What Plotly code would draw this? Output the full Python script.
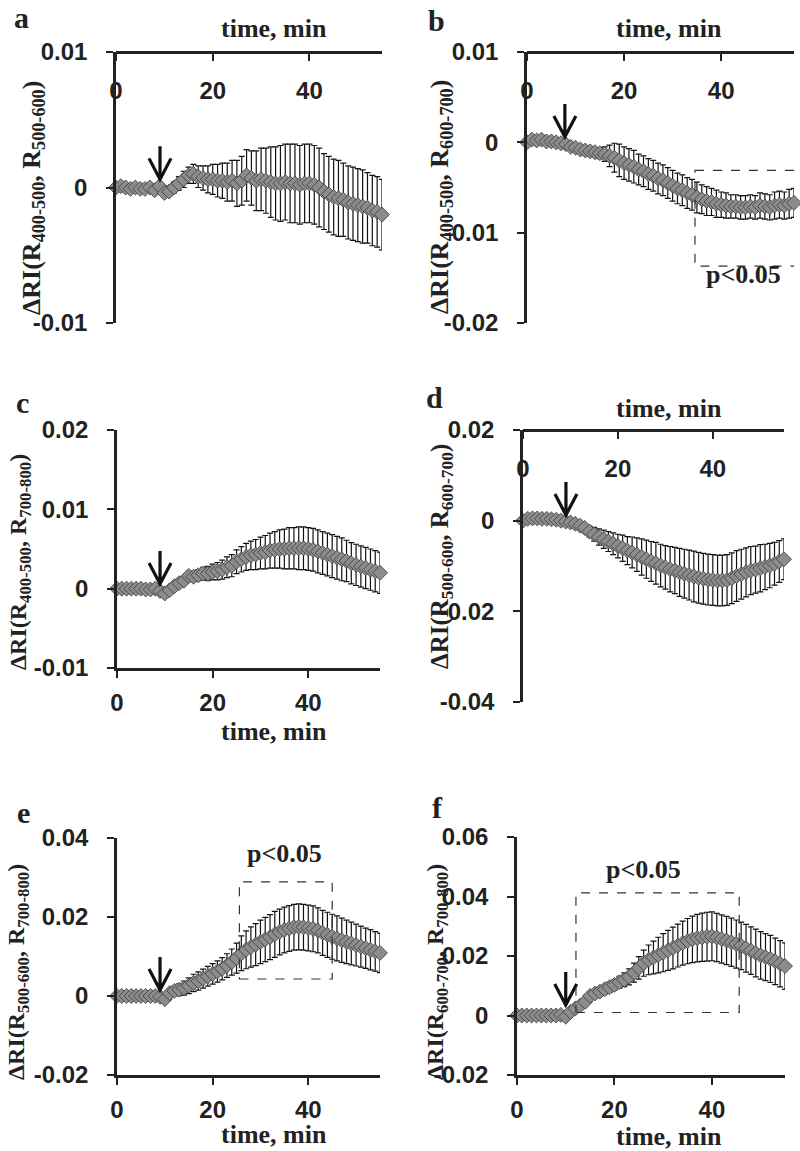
import plotly.graph_objects as go

# ---------------- data ----------------
minutes = list(range(56))

a_mean = [0.0000, 0.0001, 0.0000, -0.0001, 0.0000, -0.0001, -0.0001, 0.0000, -0.0002, 0.0001,
          -0.0004, -0.0003, 0.0000, 0.0003, 0.0006, 0.0009, 0.0010, 0.0008, 0.0007, 0.0006,
          0.0006, 0.0005, 0.0005, 0.0004, 0.0005, 0.0003, 0.0005, 0.0009, 0.0007, 0.0005,
          0.0006, 0.0005, 0.0004, 0.0003, 0.0003, 0.0004, 0.0003, 0.0003, 0.0002, 0.0003,
          0.0003, 0.0002, 0.0000, -0.0003, -0.0005, -0.0007, -0.0008, -0.0009, -0.0011, -0.0012,
          -0.0013, -0.0014, -0.0015, -0.0017, -0.0018, -0.0020]
a_err = [0.0001, 0.0001, 0.0001, 0.0001, 0.0001, 0.0001, 0.0001, 0.0001, 0.0001, 0.0001,
         0.0002, 0.0003, 0.0004, 0.0005, 0.0006, 0.0006, 0.0007, 0.0008, 0.0009, 0.0010,
         0.0011, 0.0012, 0.0013, 0.0014, 0.0015, 0.0017, 0.0018, 0.0019, 0.0020, 0.0022,
         0.0023, 0.0024, 0.0026, 0.0027, 0.0028, 0.0028, 0.0029, 0.0029, 0.0029, 0.0029,
         0.0029, 0.0029, 0.0029, 0.0028, 0.0028, 0.0028, 0.0028, 0.0027, 0.0027, 0.0027,
         0.0027, 0.0027, 0.0026, 0.0026, 0.0026, 0.0026]

b_mean = [0.0000, 0.0003, 0.0002, 0.0003, 0.0001, 0.0001, 0.0000, -0.0001, -0.0002, -0.0005,
          -0.0006, -0.0008, -0.0009, -0.0010, -0.0011, -0.0012, -0.0013, -0.0015, -0.0017, -0.0020,
          -0.0023, -0.0025, -0.0027, -0.0030, -0.0032, -0.0035, -0.0037, -0.0040, -0.0042, -0.0045,
          -0.0048, -0.0051, -0.0053, -0.0056, -0.0058, -0.0061, -0.0063, -0.0065, -0.0066, -0.0068,
          -0.0069, -0.0070, -0.0071, -0.0071, -0.0072, -0.0072, -0.0071, -0.0072, -0.0070, -0.0071,
          -0.0072, -0.0070, -0.0069, -0.0070, -0.0068, -0.0067]
b_err = [0.0002, 0.0002, 0.0002, 0.0002, 0.0002, 0.0002, 0.0002, 0.0002, 0.0002, 0.0003,
         0.0003, 0.0004, 0.0004, 0.0005, 0.0005, 0.0006, 0.0008, 0.0012, 0.0016, 0.0018,
         0.0018, 0.0018, 0.0018, 0.0017, 0.0017, 0.0017, 0.0017, 0.0017, 0.0017, 0.0017,
         0.0017, 0.0017, 0.0017, 0.0017, 0.0017, 0.0017, 0.0016, 0.0016, 0.0015, 0.0015,
         0.0014, 0.0014, 0.0013, 0.0013, 0.0013, 0.0013, 0.0013, 0.0013, 0.0014, 0.0014,
         0.0014, 0.0015, 0.0015, 0.0015, 0.0016, 0.0016]

c_mean = [0.0000, 0.0000, 0.0000, 0.0000, 0.0000, 0.0000, -0.0001, -0.0001, 0.0000, -0.0003,
          -0.0006, -0.0002, 0.0003, 0.0007, 0.0010, 0.0016, 0.0015, 0.0017, 0.0019, 0.0019,
          0.0021, 0.0022, 0.0024, 0.0027, 0.0029, 0.0034, 0.0037, 0.0040, 0.0042, 0.0043,
          0.0045, 0.0046, 0.0048, 0.0049, 0.0050, 0.0050, 0.0051, 0.0051, 0.0051, 0.0051,
          0.0050, 0.0049, 0.0047, 0.0045, 0.0043, 0.0041, 0.0039, 0.0037, 0.0035, 0.0032,
          0.0030, 0.0028, 0.0026, 0.0024, 0.0022, 0.0020]
c_err = [0.0001, 0.0001, 0.0001, 0.0001, 0.0001, 0.0001, 0.0001, 0.0001, 0.0001, 0.0001,
         0.0001, 0.0002, 0.0003, 0.0004, 0.0005, 0.0006, 0.0006, 0.0007, 0.0008, 0.0009,
         0.0010, 0.0011, 0.0012, 0.0013, 0.0014, 0.0015, 0.0016, 0.0017, 0.0018, 0.0019,
         0.0020, 0.0021, 0.0022, 0.0023, 0.0024, 0.0025, 0.0026, 0.0026, 0.0027, 0.0027,
         0.0027, 0.0027, 0.0027, 0.0027, 0.0027, 0.0027, 0.0027, 0.0027, 0.0026, 0.0026,
         0.0026, 0.0026, 0.0026, 0.0026, 0.0026, 0.0026]

d_mean = [0.0000, 0.0004, 0.0005, 0.0005, 0.0004, 0.0004, 0.0003, 0.0002, 0.0000, -0.0002,
          -0.0004, -0.0007, -0.0011, -0.0016, -0.0024, -0.0030, -0.0036, -0.0041, -0.0046, -0.0051,
          -0.0056, -0.0061, -0.0066, -0.0070, -0.0075, -0.0080, -0.0085, -0.0090, -0.0094, -0.0099,
          -0.0103, -0.0107, -0.0110, -0.0114, -0.0117, -0.0120, -0.0123, -0.0126, -0.0128, -0.0130,
          -0.0131, -0.0132, -0.0132, -0.0131, -0.0127, -0.0122, -0.0118, -0.0114, -0.0110, -0.0108,
          -0.0105, -0.0102, -0.0099, -0.0095, -0.0090, -0.0085]
d_err = [0.0002, 0.0002, 0.0002, 0.0002, 0.0002, 0.0002, 0.0002, 0.0002, 0.0002, 0.0002,
         0.0002, 0.0004, 0.0006, 0.0009, 0.0012, 0.0015, 0.0018, 0.0020, 0.0022, 0.0024,
         0.0026, 0.0029, 0.0031, 0.0034, 0.0037, 0.0040, 0.0042, 0.0044, 0.0046, 0.0047,
         0.0048, 0.0050, 0.0051, 0.0053, 0.0054, 0.0055, 0.0056, 0.0056, 0.0056, 0.0056,
         0.0056, 0.0056, 0.0056, 0.0056, 0.0056, 0.0056, 0.0055, 0.0054, 0.0053, 0.0052,
         0.0052, 0.0050, 0.0049, 0.0047, 0.0046, 0.0045]

e_mean = [0.0000, 0.0000, 0.0000, 0.0000, 0.0000, 0.0000, 0.0000, 0.0000, 0.0000, -0.0002,
          -0.0008, 0.0007, 0.0013, 0.0016, 0.0020, 0.0026, 0.0033, 0.0038, 0.0044, 0.0050,
          0.0056, 0.0062, 0.0069, 0.0077, 0.0086, 0.0096, 0.0108, 0.0117, 0.0124, 0.0130,
          0.0137, 0.0143, 0.0149, 0.0156, 0.0162, 0.0167, 0.0171, 0.0174, 0.0175, 0.0174,
          0.0172, 0.0170, 0.0166, 0.0160, 0.0155, 0.0150, 0.0146, 0.0141, 0.0137, 0.0133,
          0.0129, 0.0125, 0.0121, 0.0117, 0.0113, 0.0109]
e_err = [0.0001, 0.0001, 0.0001, 0.0001, 0.0001, 0.0001, 0.0001, 0.0001, 0.0001, 0.0001,
         0.0001, 0.0008, 0.0012, 0.0015, 0.0018, 0.0020, 0.0022, 0.0023, 0.0024, 0.0025,
         0.0026, 0.0027, 0.0028, 0.0030, 0.0033, 0.0038, 0.0044, 0.0048, 0.0051, 0.0053,
         0.0055, 0.0056, 0.0057, 0.0058, 0.0058, 0.0058, 0.0058, 0.0058, 0.0058, 0.0058,
         0.0058, 0.0058, 0.0057, 0.0057, 0.0057, 0.0057, 0.0057, 0.0056, 0.0055, 0.0054,
         0.0053, 0.0052, 0.0051, 0.0051, 0.0050, 0.0050]

f_mean = [0.0000, 0.0000, 0.0000, 0.0000, 0.0000, 0.0000, 0.0000, 0.0000, 0.0000, 0.0002,
          -0.0004, 0.0012, 0.0024, 0.0034, 0.0046, 0.0066, 0.0074, 0.0080, 0.0088, 0.0095,
          0.0103, 0.0112, 0.0120, 0.0130, 0.0144, 0.0160, 0.0176, 0.0187, 0.0195, 0.0203,
          0.0211, 0.0219, 0.0227, 0.0235, 0.0243, 0.0250, 0.0256, 0.0260, 0.0263, 0.0265,
          0.0266, 0.0262, 0.0257, 0.0252, 0.0246, 0.0240, 0.0234, 0.0226, 0.0218, 0.0210,
          0.0202, 0.0196, 0.0190, 0.0182, 0.0174, 0.0166]
f_err = [0.0002, 0.0002, 0.0002, 0.0002, 0.0002, 0.0002, 0.0002, 0.0002, 0.0002, 0.0002,
         0.0002, 0.0006, 0.0008, 0.0010, 0.0012, 0.0013, 0.0014, 0.0015, 0.0016, 0.0017,
         0.0018, 0.0020, 0.0023, 0.0027, 0.0032, 0.0038, 0.0044, 0.0050, 0.0055, 0.0060,
         0.0064, 0.0067, 0.0070, 0.0072, 0.0074, 0.0076, 0.0078, 0.0080, 0.0081, 0.0082,
         0.0082, 0.0081, 0.0081, 0.0081, 0.0081, 0.0081, 0.0080, 0.0080, 0.0080, 0.0080,
         0.0080, 0.0079, 0.0079, 0.0078, 0.0078, 0.0078]

panel_letters = ["a", "b", "c", "d", "e", "f"]
y_titles = [
    "ΔRI(R<sub>400-500</sub>, R<sub>500-600</sub>)",
    "ΔRI(R<sub>400-500</sub>, R<sub>600-700</sub>)",
    "ΔRI(R<sub>400-500</sub>, R<sub>700-800</sub>)",
    "ΔRI(R<sub>500-600</sub>, R<sub>600-700</sub>)",
    "ΔRI(R<sub>500-600</sub>, R<sub>700-800</sub>)",
    "ΔRI(R<sub>600-700</sub>, R<sub>700-800</sub>)",
]
x_title = "time, min"
x_tick_vals = [0, 20, 40]
x_tick_text = ["0", "20", "40"]

a_ytick_vals = [-0.01, 0, 0.01]
a_ytick_text = ["-0.01", "0", "0.01"]
b_ytick_vals = [-0.02, -0.01, 0, 0.01]
b_ytick_text = ["-0.02", "-0.01", "0", "0.01"]
c_ytick_vals = [-0.01, 0, 0.01, 0.02]
c_ytick_text = ["-0.01", "0", "0.01", "0.02"]
d_ytick_vals = [-0.04, -0.02, 0, 0.02]
d_ytick_text = ["-0.04", "-0.02", "0", "0.02"]
e_ytick_vals = [-0.02, 0, 0.02, 0.04]
e_ytick_text = ["-0.02", "0", "0.02", "0.04"]
f_ytick_vals = [-0.02, 0, 0.02, 0.04, 0.06]
f_ytick_text = ["-0.02", "0", "0.02", "0.04", "0.06"]

# injection time (arrow x) and the value the arrow points at
arrow_x = [9.1, 7.8, 9.0, 9.05, 9.0, 10.0]
arrow_tip_y = [0.0006, 0.0006, 0.0006, 0.00125, 0.0015, 0.0035]

sig_label = "p<0.05"

# ---------------- layout geometry (pixels) ----------------
W, H = 800, 1151
SERIF = "Liberation Serif"
SANS = "Liberation Sans"
ARROW_PATH = "M0,33 L0,2 M-11,21 L0,0 L11,21"   # pixel offsets from the arrow tip

panels = [
    dict(mean=a_mean, err=a_err, yv=a_ytick_vals, yt=a_ytick_text, yr=[-0.01, 0.01],
         px=(116, 382), py=(52, 323), xside="top", box=None, ptxt=None,
         xt=(274, 29), yttl=(33, 198, 26), let=(21, 17)),
    dict(mean=b_mean, err=b_err, yv=b_ytick_vals, yt=b_ytick_text, yr=[-0.02, 0.01],
         px=(527, 794), py=(52, 323), xside="top",
         box=(34.6, 55.9, -0.0031, -0.0137), ptxt=(44.5, -0.0146),
         xt=(669, 29), yttl=(441, 197, 26), let=(436, 20)),
    dict(mean=c_mean, err=c_err, yv=c_ytick_vals, yt=c_ytick_text, yr=[-0.01, 0.02],
         px=(117, 380), py=(430, 668), xside="bottom", box=None, ptxt=None,
         xt=(274, 731), yttl=(20, 562, 24), let=(22, 402)),
    dict(mean=d_mean, err=d_err, yv=d_ytick_vals, yt=d_ytick_text, yr=[-0.04, 0.02],
         px=(523, 784), py=(430, 702), xside="top", box=None, ptxt=None,
         xt=(669, 408), yttl=(441, 557, 25), let=(435, 397)),
    dict(mean=e_mean, err=e_err, yv=e_ytick_vals, yt=e_ytick_text, yr=[-0.02, 0.04],
         px=(117, 380), py=(838, 1075), xside="bottom",
         box=(25.6, 45.0, 0.0043, 0.0289), ptxt=(35.1, 0.0362),
         xt=(274, 1134), yttl=(18, 972, 24), let=(23, 812)),
    dict(mean=f_mean, err=f_err, yv=f_ytick_vals, yt=f_ytick_text, yr=[-0.02, 0.06],
         px=(517, 785), py=(837, 1075), xside="bottom",
         box=(12.1, 45.6, 0.0010, 0.0412), ptxt=(26.0, 0.0492),
         xt=(669, 1136), yttl=(437, 972, 24), let=(437, 807)),
]

fig = go.Figure()
annotations = []
shapes = []
tick_font = dict(family=SANS, size=24, color="#222222", weight="bold")

for i, p in enumerate(panels):
    k = "" if i == 0 else str(i + 1)
    xa, ya = "x" + k, "y" + k
    fig.add_trace(go.Scatter(
        x=minutes, y=p["mean"], xaxis=xa, yaxis=ya, mode="markers",
        marker=dict(symbol="diamond", size=11.5, color="#8c8c8c",
                    line=dict(color="#3a3a3a", width=0.8)),
        error_y=dict(type="data", array=p["err"], visible=True,
                     color="#111111", thickness=1.2, width=3),
        cliponaxis=False, showlegend=False, hoverinfo="skip"))

    x0, x1 = p["px"]
    y0, y1 = p["py"]
    top = p["xside"] == "top"
    xaxis = dict(
        domain=[x0 / W, x1 / W], range=[0, 55], side="bottom",
        showline=True, linecolor="#222222", linewidth=2.5,
        ticks="outside", ticklen=7, tickwidth=2, tickcolor="#222222",
        tickvals=x_tick_vals, ticktext=x_tick_text,
        ticklabelstandoff=9 if top else 4, tickfont=tick_font,
        showgrid=False, zeroline=False, fixedrange=True)
    if top:
        # x axis crossing at the top of the value axis, labels below it
        xaxis.update(anchor="free", position=1 - y0 / H)
    else:
        xaxis.update(anchor=ya)
    fig.layout["xaxis" + k] = xaxis
    fig.layout["yaxis" + k] = dict(
        domain=[1 - y1 / H, 1 - y0 / H], range=p["yr"], anchor=xa,
        showline=True, linecolor="#222222", linewidth=2.5,
        ticks="outside", ticklen=7, tickwidth=2, tickcolor="#222222",
        tickvals=p["yv"], ticktext=p["yt"], ticklabelstandoff=14, tickfont=tick_font,
        showgrid=False, zeroline=False, fixedrange=True)

    # injection arrow (drawn in pixels around its tip)
    shapes.append(dict(type="path", xref=xa, yref=ya, xsizemode="pixel", ysizemode="pixel",
                       xanchor=arrow_x[i], yanchor=arrow_tip_y[i], path=ARROW_PATH,
                       line=dict(color="#111111", width=3.2)))

    # significance box
    if p["box"] is not None:
        bx0, bx1, by0, by1 = p["box"]
        shapes.append(dict(type="rect", xref=xa, yref=ya, x0=bx0, x1=bx1, y0=by0, y1=by1,
                           line=dict(color="#333333", width=1.2, dash="dash")))
        tx, ty = p["ptxt"]
        annotations.append(dict(x=tx, y=ty, xref=xa, yref=ya, text=sig_label, showarrow=False,
                                font=dict(family=SERIF, size=26, color="#222222", weight="bold"),
                                xanchor="center", yanchor="middle"))

    # x axis title
    tx, ty = p["xt"]
    annotations.append(dict(x=tx / W, y=1 - ty / H, xref="paper", yref="paper", text=x_title,
                            showarrow=False, xanchor="center", yanchor="middle",
                            font=dict(family=SERIF, size=26, color="#222222", weight="bold")))
    # y axis title
    tx, ty, fs = p["yttl"]
    annotations.append(dict(x=tx / W, y=1 - ty / H, xref="paper", yref="paper", text=y_titles[i],
                            showarrow=False, xanchor="center", yanchor="middle", textangle=-90,
                            font=dict(family=SERIF, size=fs, color="#222222", weight="bold")))
    # panel letter
    tx, ty = p["let"]
    annotations.append(dict(x=tx / W, y=1 - ty / H, xref="paper", yref="paper", text=panel_letters[i],
                            showarrow=False, xanchor="center", yanchor="middle",
                            font=dict(family=SERIF, size=30, color="#222222", weight="bold")))

fig.update_layout(
    width=W, height=H, margin=dict(l=0, r=0, t=0, b=0, autoexpand=False),
    paper_bgcolor="white", plot_bgcolor="white",
    annotations=annotations, shapes=shapes, showlegend=False)

fig.write_html("out.html", config={"displayModeBar": False},
               post_script="document.body.style.margin='0';")
